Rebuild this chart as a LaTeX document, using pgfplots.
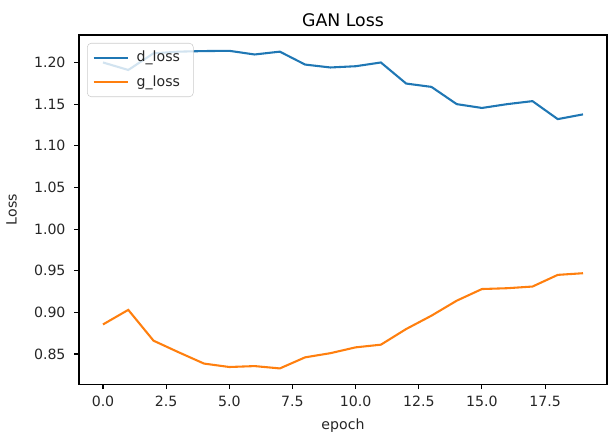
\documentclass[border=0pt]{standalone}
\usepackage{pgfplots}
\pgfplotsset{compat=1.18}
\usepackage{fontspec}
\setmainfont{DejaVu Sans}
\definecolor{mblue}{HTML}{1F77B4}
\definecolor{morange}{HTML}{FF7F0E}
\pgfplotsset{
  legend image code/.code={\draw[#1] (0pt,0pt) -- (25.5pt,0pt);},
}
\begin{document}
\begin{tikzpicture}
\begin{axis}[
  scale only axis,
  width=396pt, height=262pt,
  xmin=-0.95, xmax=19.95,
  ymin=0.8136, ymax=1.233,
  xtick={0,2.5,...,17.5},
  ytick={0.85,0.90,...,1.20},
  tick label style={font=\fontsize{10.6pt}{12pt}\selectfont, color=black!85},
  xticklabel style={yshift=-2pt, /pgf/number format/fixed, /pgf/number format/fixed zerofill, /pgf/number format/precision=1},
  yticklabel style={xshift=-3pt, /pgf/number format/fixed, /pgf/number format/fixed zerofill, /pgf/number format/precision=2},
  /pgf/number format/assume math mode=true,
  label style={font=\fontsize{10.6pt}{12pt}\selectfont, color=black!85},
  xlabel style={yshift=-2pt},
  ylabel style={yshift=6pt},
  title style={font=\fontsize{13pt}{15pt}\selectfont, yshift=-3pt},
  title={GAN Loss},
  xlabel={epoch},
  ylabel={Loss},
  tick align=outside,
  major tick length=3.6pt,
  tick pos=left,
  axis line style={line width=0.8pt},
  every tick/.style={black, line width=0.8pt},
  legend style={at={(0,1)}, anchor=north west, xshift=6pt, yshift=-6pt,
    draw=black!20, rounded corners=3pt, fill=white, fill opacity=0.8, text opacity=1,
    font=\fontsize{10.6pt}{12pt}\selectfont, inner sep=4pt, row sep=5pt,
    nodes={text=black!85, inner xsep=6pt}},
  legend cell align=left,
]
\addplot[color=mblue, line width=1.56pt] coordinates {
(0,1.200) (1,1.191) (2,1.211) (3,1.213) (4,1.2137) (5,1.214) (6,1.2096) (7,1.213)
(8,1.1975) (9,1.194) (10,1.1955) (11,1.200) (12,1.1747) (13,1.1707) (14,1.150)
(15,1.1454) (16,1.150) (17,1.1536) (18,1.132) (19,1.1377)};
\addlegendentry{d\_loss}
\addplot[color=morange, line width=1.56pt] coordinates {
(0,0.8855) (1,0.903) (2,0.866) (3,0.852) (4,0.8385) (5,0.8344) (6,0.8355) (7,0.8327)
(8,0.846) (9,0.851) (10,0.858) (11,0.8612) (12,0.880) (13,0.896) (14,0.914)
(15,0.928) (16,0.929) (17,0.931) (18,0.945) (19,0.947)};
\addlegendentry{g\_loss}
\end{axis}
\pgfresetboundingbox
\path (current axis.south west) ++(-59.25pt,-36.75pt) coordinate (bl);
\path (current axis.north east) ++(0.75pt,26.25pt) coordinate (tr);
\path (bl) rectangle (tr);
\end{tikzpicture}
\end{document}
